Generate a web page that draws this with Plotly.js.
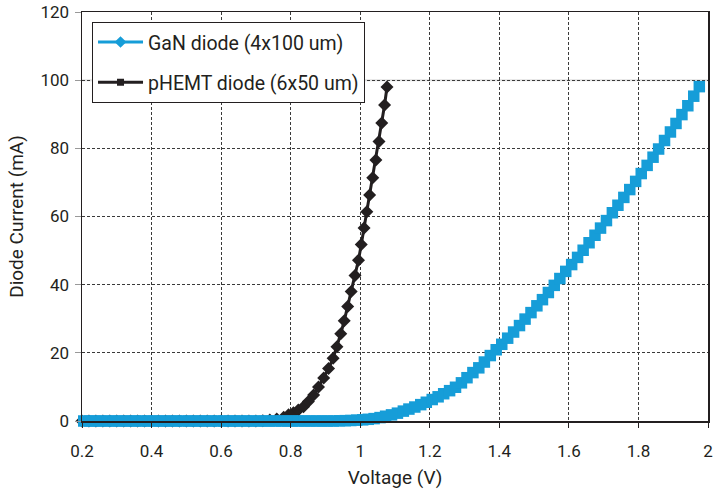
<!DOCTYPE html>
<html>
<head>
<meta charset="utf-8">
<script src="https://cdn.plot.ly/plotly-3.0.1.min.js"></script>
<style>html,body{margin:0;padding:0;background:#fff;}#chart{width:721px;height:492px;}</style>
</head>
<body>
<div id="chart"></div>
<script>
// GaN diode (4x100 um) - Voltage (V)
const ganVoltage = [0.205,0.222,0.238,0.255,0.272,0.289,0.305,0.322,0.339,0.355,0.372,0.389,0.405,0.422,0.439,0.456,0.472,0.489,0.506,0.522,0.539,0.556,0.572,0.589,0.606,0.623,0.639,0.656,0.673,0.689,0.706,0.723,0.739,0.756,0.773,0.790,0.806,0.823,0.840,0.856,0.873,0.890,0.906,0.923,0.940,0.957,0.973,0.990,1.007,1.023,1.040,1.057,1.073,1.090,1.107,1.124,1.140,1.157,1.174,1.190,1.207,1.224,1.240,1.257,1.274,1.291,1.307,1.324,1.341,1.357,1.374,1.391,1.407,1.424,1.441,1.458,1.474,1.491,1.508,1.524,1.541,1.558,1.574,1.591,1.608,1.625,1.641,1.658,1.675,1.691,1.708,1.725,1.741,1.758,1.775,1.792,1.808,1.825,1.842,1.858,1.875,1.892,1.908,1.925,1.942,1.959,1.975];
// GaN diode current (mA)
const ganCurrent = [0,0,0,0,0,0,0,0,0,0,0,0,0,0,0,0,0,0,0,0,0,0,0,0,0,0,0,0,0,0,0,0,0,0,0,0,0,0,0,0,0,0,0,0,0.05,0.1,0.15,0.25,0.35,0.5,0.7,1.0,1.4,1.8,2.3,2.9,3.5,4.1,4.8,5.5,6.3,7.1,8.0,8.9,9.9,11.2,12.7,14.2,15.6,17.3,19.2,20.9,22.5,24.3,26.1,28.0,29.9,31.8,33.8,35.6,37.7,39.8,41.8,43.9,45.9,48.0,50.1,52.3,54.5,56.6,58.8,61.1,63.3,65.6,67.9,70.3,72.6,75.0,77.4,79.8,82.3,84.8,87.3,89.9,92.5,95.3,98.1];

// pHEMT diode (6x50 um) - Voltage (V)
const phemtVoltage = [0.20,0.22,0.24,0.26,0.28,0.30,0.32,0.34,0.36,0.38,0.40,0.42,0.44,0.46,0.48,0.50,0.52,0.54,0.56,0.58,0.60,0.62,0.64,0.66,0.68,0.70,0.72,0.74,0.76,0.78,0.794,0.808,0.822,0.837,0.851,0.866,0.880,0.895,0.909,0.922,0.933,0.944,0.954,0.964,0.974,0.985,0.995,1.003,1.011,1.019,1.027,1.036,1.045,1.054,1.062,1.070,1.077];
// pHEMT diode current (mA)
const phemtCurrent = [0,0,0,0,0,0,0,0,0,0,0,0,0,0,0,0,0,0,0,0,0,0,0,0,0,0,0.1,0.3,0.6,1.1,1.8,2.4,3.2,4.2,5.7,7.6,10.0,12.6,15.4,18.4,21.8,25.6,29.4,33.6,38.0,42.7,47.2,51.8,56.6,61.4,66.3,71.4,76.6,82.0,87.4,92.7,98.0];

const seriesNames = ['GaN diode (4x100 um)', 'pHEMT diode (6x50 um)'];
const xTicks = [0.2,0.4,0.6,0.8,1,1.2,1.4,1.6,1.8,2];
const yTicks = [0,20,40,60,80,100,120];
const lightGridValue = 100;

const BLUE = '#169dd8';
const BLACK = '#231f20';
const FONT = 'Roboto, "DejaVu Sans", sans-serif';

const traces = [
  { // pHEMT curve (drawn under blue)
    x: phemtVoltage, y: phemtCurrent, type: 'scatter', mode: 'lines+markers',
    line: {color: BLACK, width: 3}, marker: {symbol: 'diamond', size: 10, color: BLACK},
    showlegend: false, cliponaxis: false, hoverinfo: 'skip'
  },
  { // GaN curve
    x: ganVoltage, y: ganCurrent, type: 'scatter', mode: 'lines+markers',
    line: {color: BLUE, width: 3}, marker: {symbol: 'square', size: 11.5, color: BLUE},
    showlegend: false, cliponaxis: false, hoverinfo: 'skip'
  },
  { // legend entries
    x: [null], y: [null], type: 'scatter', mode: 'lines+markers', name: seriesNames[0],
    line: {color: BLUE, width: 3}, marker: {symbol: 'diamond', size: 9, color: BLUE},
    legendrank: 1, legendgroup: 'a'
  },
  {
    x: [null], y: [null], type: 'scatter', mode: 'lines+markers', name: seriesNames[1],
    line: {color: BLACK, width: 3}, marker: {symbol: 'square', size: 7, color: BLACK},
    legendrank: 2, legendgroup: 'b'
  }
];

const layout = {
  width: 721, height: 492,
  margin: {l: 82, r: 13, t: 12, b: 71},
  paper_bgcolor: '#fff', plot_bgcolor: '#fff',
  font: {family: FONT, color: '#231f20', size: 17},
  showlegend: true,
  legend: {
    x: 0.016, y: 0.976, xanchor: 'left', yanchor: 'top',
    bgcolor: '#fff', bordercolor: '#231f20', borderwidth: 1,
    font: {family: FONT, size: 19.5, color: '#231f20'},
    tracegroupgap: 12, itemwidth: 45
  },
  xaxis: {
    range: [0.2, 2], tickvals: xTicks, ticktext: xTicks.map(String),
    showline: true, linecolor: '#231f20', linewidth: 1.5, mirror: true,
    ticks: 'outside', ticklen: 5, tickcolor: '#231f20', tickwidth: 1,
    ticklabelstandoff: 9,
    showgrid: true, gridcolor: '#3a3a3a', gridwidth: 1, griddash: '3px,2px',
    zeroline: false, tickfont: {size: 17},
    title: {text: 'Voltage (V)', font: {size: 19}, standoff: 11}
  },
  yaxis: {
    range: [0, 120], tickvals: yTicks, ticktext: yTicks.map(String),
    showline: true, linecolor: '#231f20', linewidth: 1.5, mirror: true,
    ticks: 'outside', ticklen: 6, tickcolor: '#999', tickwidth: 1,
    ticklabelstandoff: 2,
    showgrid: true, gridcolor: '#3a3a3a', gridwidth: 1, griddash: '3px,2px',
    zeroline: false, tickfont: {size: 17},
    title: {text: 'Diode Current (mA)', font: {size: 19}, standoff: 12}
  },
  shapes: [{
    type: 'line', xref: 'paper', x0: 0, x1: 1, yref: 'y', y0: lightGridValue, y1: lightGridValue,
    line: {color: '#e0e0e0', width: 2}, layer: 'below'
  }]
};

Plotly.newPlot('chart', traces, layout, {displayModeBar: false, staticPlot: true});
</script>
</body>
</html>
